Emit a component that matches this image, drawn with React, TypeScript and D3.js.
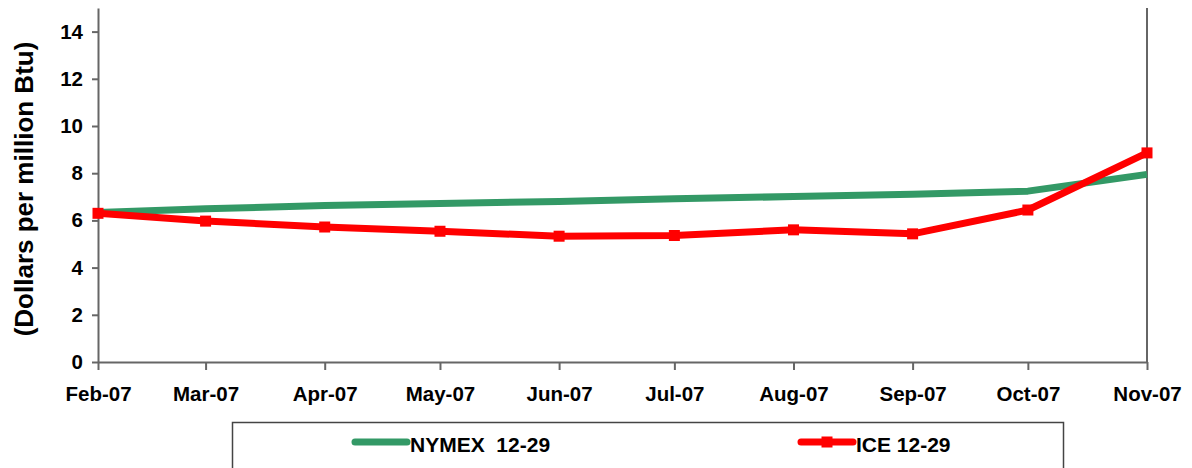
import { useRef, useEffect } from "react";
import * as d3 from "d3";

// months (first of month) on the x axis
const months = [
  "2007-02-01", "2007-03-01", "2007-04-01", "2007-05-01", "2007-06-01",
  "2007-07-01", "2007-08-01", "2007-09-01", "2007-10-01", "2007-11-01",
];
const nymex = [6.33, 6.49, 6.63, 6.72, 6.8, 6.92, 7.01, 7.11, 7.24, 7.95];
const ice = [6.3, 5.97, 5.72, 5.54, 5.33, 5.36, 5.6, 5.43, 6.44, 8.86];
const yTicks = [0, 2, 4, 6, 8, 10, 12, 14];
const seriesNames = ["NYMEX  12-29", "ICE 12-29"];

const W = 1192;
const H = 468;
const FONT = "Arial, 'Liberation Sans', Helvetica, sans-serif";
const GREEN = "#339966";
const RED = "#ff0000";
const AXIS = "#666666";

const LineChart = () => {
  const svgRef = useRef<SVGSVGElement | null>(null);

  useEffect(() => {
    const svg = d3.select(svgRef.current);
    svg.selectAll("*").remove();

    const margin = { top: 8, right: 45, bottom: 106, left: 98 };
    const innerW = W - margin.left - margin.right;
    const innerH = H - margin.top - margin.bottom;

    const parse = d3.timeParse("%Y-%m-%d");
    const dates = months.map((m) => parse(m) as Date);

    const x = d3
      .scaleTime()
      .domain([dates[0], dates[dates.length - 1]])
      .range([0, innerW]);
    const y = d3.scaleLinear().domain([0, 15]).range([innerH, 0]);

    const g = svg
      .append("g")
      .attr("transform", `translate(${margin.left},${margin.top})`);

    // right border
    g.append("line")
      .attr("x1", innerW)
      .attr("x2", innerW)
      .attr("y1", 0)
      .attr("y2", innerH)
      .attr("stroke", AXIS)
      .attr("stroke-width", 2);

    // y axis
    const yAxis = g
      .append("g")
      .call(
        d3
          .axisLeft(y)
          .tickValues(yTicks)
          .tickSize(6)
          .tickPadding(9)
          .tickSizeOuter(0)
      );
    yAxis.select(".domain").attr("stroke", AXIS).attr("stroke-width", 2);
    yAxis.selectAll(".tick line").attr("stroke", AXIS).attr("stroke-width", 2);
    yAxis
      .selectAll(".tick text")
      .attr("fill", "#000")
      .style("font", `bold 20.5px ${FONT}`);

    // x axis
    const xAxis = g
      .append("g")
      .attr("transform", `translate(0,${innerH})`)
      .call(
        d3
          .axisBottom(x)
          .tickValues(dates)
          .tickFormat((d) => d3.timeFormat("%b-%y")(d as Date))
          .tickSize(8)
          .tickPadding(16)
          .tickSizeOuter(0)
      );
    xAxis.select(".domain").attr("stroke", AXIS).attr("stroke-width", 2);
    xAxis.selectAll(".tick line").attr("stroke", AXIS).attr("stroke-width", 2);
    xAxis
      .selectAll(".tick text")
      .attr("fill", "#000")
      .style("font", `bold 20.5px ${FONT}`);

    // y title
    svg
      .append("text")
      .attr("transform", `translate(33,189) rotate(-90)`)
      .attr("text-anchor", "middle")
      .style("font", `bold 26px ${FONT}`)
      .text("(Dollars per million Btu)");

    const line = d3
      .line<number>()
      .x((_, i) => x(dates[i]))
      .y((d) => y(d));

    g.append("path")
      .datum(nymex)
      .attr("d", line)
      .attr("fill", "none")
      .attr("stroke", GREEN)
      .attr("stroke-width", 7)
      .attr("stroke-linejoin", "round");

    g.append("path")
      .datum(ice)
      .attr("d", line)
      .attr("fill", "none")
      .attr("stroke", RED)
      .attr("stroke-width", 7)
      .attr("stroke-linejoin", "round");

    g.selectAll(".mark")
      .data(ice)
      .join("rect")
      .attr("class", "mark")
      .attr("x", (_, i) => x(dates[i]) - 5.5)
      .attr("y", (d) => y(d) - 5.5)
      .attr("width", 11)
      .attr("height", 11)
      .attr("fill", RED);

    // legend
    const lg = svg.append("g");
    lg.append("rect")
      .attr("x", 232.5)
      .attr("y", 422.5)
      .attr("width", 831)
      .attr("height", 60)
      .attr("fill", "#fff")
      .attr("stroke", "#444")
      .attr("stroke-width", 1.5);

    const items = [
      { name: seriesNames[0], color: GREEN, x0: 355, marker: false },
      { name: seriesNames[1], color: RED, x0: 801, marker: true },
    ];
    items.forEach((it) => {
      lg.append("line")
        .attr("x1", it.x0)
        .attr("x2", it.x0 + 52)
        .attr("y1", 442)
        .attr("y2", 442)
        .attr("stroke", it.color)
        .attr("stroke-width", 7)
        .attr("stroke-linecap", "round");
      if (it.marker) {
        lg.append("rect")
          .attr("x", it.x0 + 26 - 5.5)
          .attr("y", 442 - 5.5)
          .attr("width", 11)
          .attr("height", 11)
          .attr("fill", it.color);
      }
      lg.append("text")
        .attr("x", it.x0 + 55)
        .attr("y", 452)
        .attr("xml:space", "preserve")
        .style("white-space", "pre")
        .style("font", `bold 21px ${FONT}`)
        .text(it.name);
    });
  }, []);

  return (
    <svg
      ref={svgRef}
      width={W}
      height={H}
      viewBox={`0 0 ${W} ${H}`}
      style={{ position: "absolute", left: 0, top: 0, background: "#fff" }}
    ></svg>
  );
};

export default function App() {
  return <LineChart />;
}
